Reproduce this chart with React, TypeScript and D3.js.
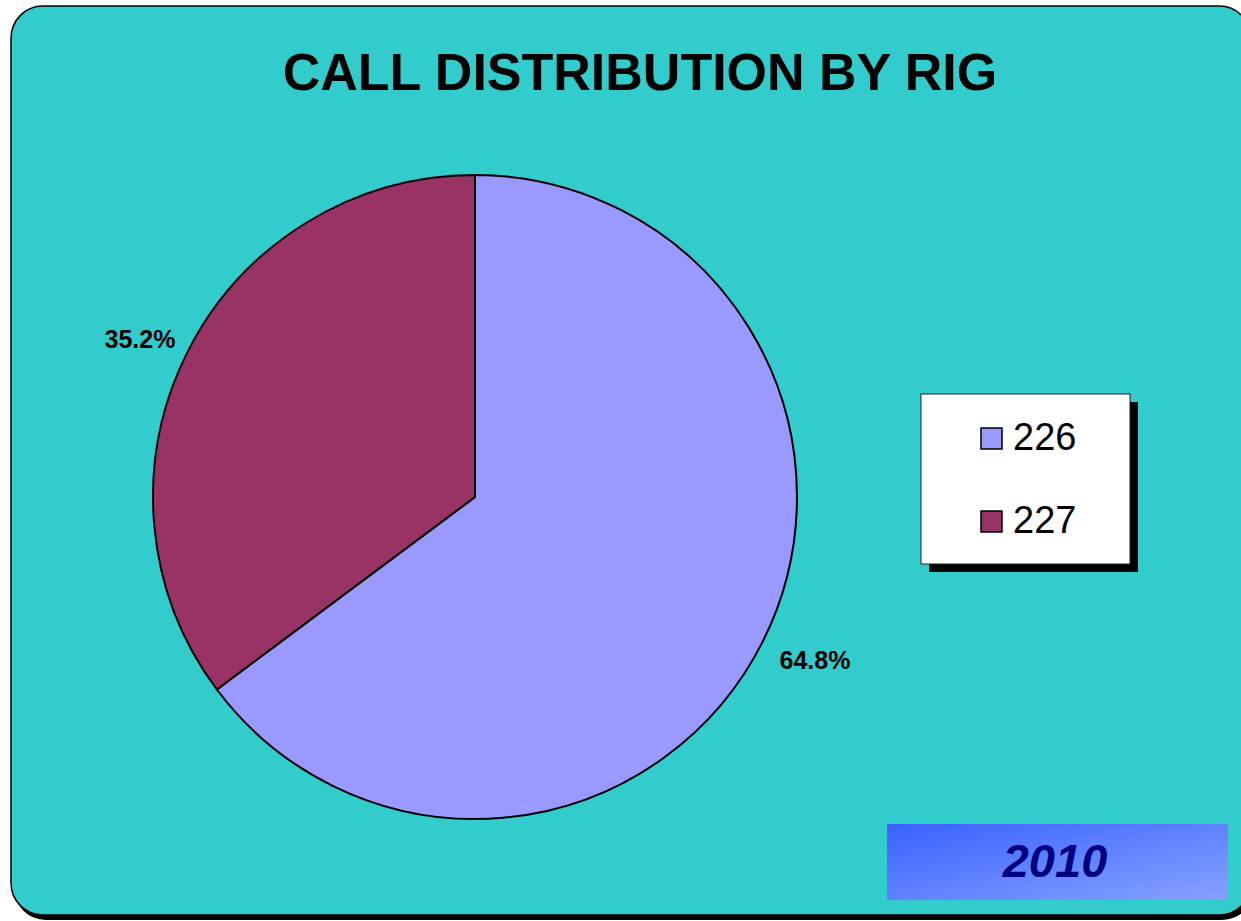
import React from "react";
import * as d3 from "d3";

const categories = ["226", "227"];
const values = [64.8, 35.2];
const colors = ["#9999FF", "#993366"];
const title = "CALL DISTRIBUTION BY RIG";
const yearLabel = "2010";

const W = 1241;
const H = 921;

export default function App() {
  const cx = 475;
  const cy = 497;
  const r = 322;
  const pie = d3.pie<number>().sort(null).value((d) => d);
  const arcs = pie(values);
  const arc = d3.arc<d3.PieArcDatum<number>>().innerRadius(0).outerRadius(r);
  const labelPos = [
    { dx: 340, dy: 163 },
    { dx: -335, dy: -158 },
  ];
  const font = "Liberation Sans, Arial, Helvetica, sans-serif";
  return (
    <div style={{ position: "absolute", left: 0, top: 0 }}>
      <svg width={W} height={H} style={{ display: "block" }}>
        <defs>
          <linearGradient id="yr" x1="0" y1="0" x2="1" y2="1">
            <stop offset="0" stopColor="#3A62FF" />
            <stop offset="1" stopColor="#85A2FF" />
          </linearGradient>
        </defs>
        <rect x={0} y={0} width={W} height={H} fill="#ffffff" />
        <rect x={14} y={9} width={1240} height={911} rx={32} ry={32} fill="#000" />
        <rect x={11} y={6} width={1240} height={909} rx={32} ry={32} fill="#33CCCC" stroke="#000" strokeWidth={1.5} />
        <text x={640} y={90} textAnchor="middle" fontFamily={font} fontWeight="bold" fontSize={52} fill="#000">
          {title}
        </text>
        <g transform={`translate(${cx},${cy})`}>
          {arcs.map((a, i) => (
            <path key={i} d={arc(a) || ""} fill={colors[i]} stroke="#000" strokeWidth={2} />
          ))}
          {arcs.map((a, i) => (
            <text
              key={"l" + i}
              x={labelPos[i].dx}
              y={labelPos[i].dy}
              textAnchor="middle"
              dominantBaseline="central"
              fontFamily={font}
              fontWeight="bold"
              fontSize={25}
              fill="#000"
            >
              {a.data.toFixed(1)}%
            </text>
          ))}
        </g>
        <rect x={929} y={402} width={209} height={170} fill="#000" />
        <rect x={921} y={394} width={209} height={170} fill="#fff" stroke="#222" strokeWidth={1} />
        {categories.map((c, i) => (
          <g key={c} transform={`translate(0,${i * 83})`}>
            <rect x={981} y={428} width={21} height={21} fill={colors[i]} stroke="#000" strokeWidth={1.5} />
            <text x={1013} y={450} fontFamily={font} fontSize={38} fill="#000">
              {c}
            </text>
          </g>
        ))}
        <rect x={887} y={824} width={341} height={76} fill="url(#yr)" />
        <text x={1055} y={877} textAnchor="middle" fontFamily={font} fontWeight="bold" fontStyle="italic" fontSize={47} fill="#000080">
          {yearLabel}
        </text>
      </svg>
    </div>
  );
}
